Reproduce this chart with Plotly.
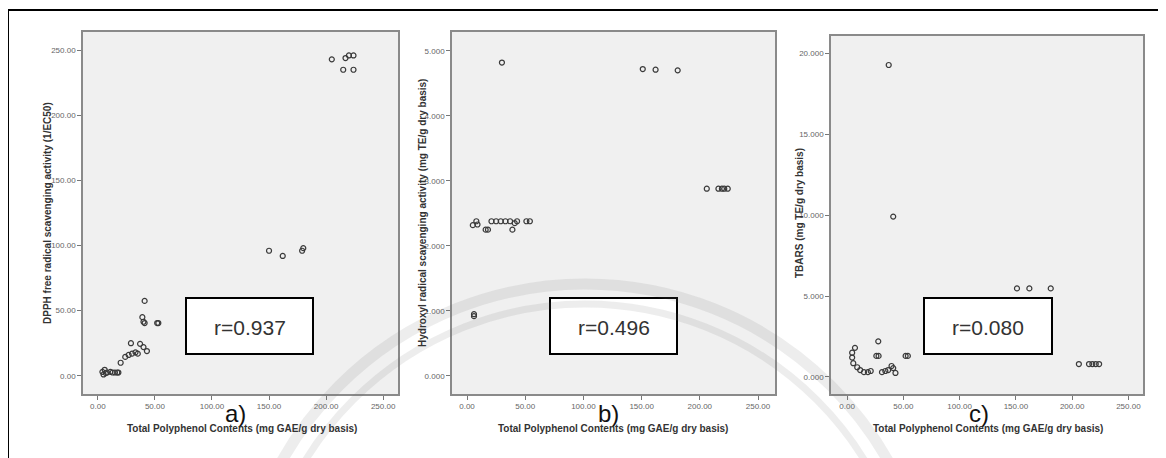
import plotly.graph_objects as go

# The page body has an 8px margin, so the figure is sized to fill the rest of the window.
OFF = 8
W, H = 1166 - OFF, 458 - OFF

# ---- data ----
tpc_a = [4, 5, 6, 7, 8, 11, 13, 15, 17, 18, 20, 24, 27, 30, 33, 35, 29, 37, 40, 43,
         39, 40, 41, 41, 52, 53, 150, 162, 179, 180, 205, 215, 217, 220, 224, 224]
dpph = [3, 1, 4.6, 2, 2.5, 3, 2.5, 2.5, 2.5, 2.5, 10, 14.5, 16, 17, 18, 17, 25, 24.5, 22, 19,
        45, 41.5, 40.5, 57.5, 40.5, 40.5, 96, 92, 96, 98, 243, 235, 244, 246, 246, 235]

tpc_b = [5, 6, 6, 8, 9, 16, 18, 21, 25, 29, 33, 37, 43, 39, 41, 51, 54, 30,
         151, 162, 181, 206, 216, 219, 221, 224]
hydroxyl = [2.32, 0.95, 0.92, 2.38, 2.33, 2.25, 2.25, 2.38, 2.38, 2.38, 2.38, 2.38, 2.38, 2.25, 2.35, 2.38, 2.38, 4.82,
            4.72, 4.71, 4.70, 2.88, 2.88, 2.88, 2.88, 2.88]

tpc_c = [7, 4.5, 4.5, 5.5, 9, 11.6, 15, 18.5, 21, 27.7, 26, 28, 52, 54, 31, 34, 36.5, 39.5, 41, 43,
         37, 41, 151, 162, 181, 206, 215, 218, 221, 224]
tbars = [1.8, 1.5, 1.2, 0.85, 0.6, 0.43, 0.3, 0.3, 0.37, 2.2, 1.3, 1.3, 1.3, 1.3, 0.3, 0.37, 0.43, 0.68, 0.55, 0.25,
         19.26, 9.9, 5.47, 5.47, 5.47, 0.8, 0.8, 0.8, 0.8, 0.8]

r_labels = ["r=0.937", "r=0.496", "r=0.080"]
panel_labels = ["a)", "b)", "c)"]
x_title = "Total Polyphenol Contents (mg GAE/g dry basis)"
y_titles = ["DPPH free radical scavenging activity (1/EC50)",
            "Hydroxyl radical scavenging activity (mg TE/g dry basis)",
            "TBARS (mg TE/g dry basis)"]

x_ticks = [0, 50, 100, 150, 200, 250]
y_ticks_a = [0, 50, 100, 150, 200, 250]
y_ticks_b = [0, 1, 2, 3, 4, 5]
y_ticks_c = [0, 5, 10, 15, 20]


# ---- layout helpers (window pixel geometry -> paper fractions) ----
def px_x(p):
    return (p - OFF) / W


def px_y(p):
    return 1 - (p - OFF) / H


panels = [
    dict(x=(83, 398), y=(32, 394), xr=[-13, 263], yr=[-14, 264], yt=y_ticks_a, yfmt=".2f",
         box=(186, 313), lab_x=235, xt_x=242, yt_x=48),
    dict(x=(452, 775), y=(32, 394), xr=[-12.9, 264.6], yr=[-0.277, 5.29], yt=y_ticks_b, yfmt=".3f",
         box=(550, 677), lab_x=608, xt_x=613, yt_x=423),
    dict(x=(831, 1143), y=(36, 394), xr=[-14.3, 263], yr=[-1.05, 21.05], yt=y_ticks_c, yfmt=".3f",
         box=(924, 1052), lab_x=979, xt_x=988, yt_x=800),
]
series = [(tpc_a, dpph), (tpc_b, hydroxyl), (tpc_c, tbars)]

fig = go.Figure()
tick_font = dict(family="Liberation Sans Narrow, Liberation Sans, Arial", size=8, color="#666")
title_font = dict(family="Liberation Sans, Arial", size=10, color="#333")

for i, (p, (xs, ys)) in enumerate(zip(panels, series)):
    n = "" if i == 0 else str(i + 1)
    fig.add_trace(go.Scatter(
        x=xs, y=ys, mode="markers", xaxis="x" + n, yaxis="y" + n, showlegend=False,
        marker=dict(symbol="circle-open", size=5, color="#3a3a3a", line=dict(width=1.2)),
    ))
    axcommon = dict(showgrid=False, zeroline=False, showline=True, mirror=True,
                    linecolor="#8a8a8a", linewidth=1.5, ticks="outside", ticklen=4,
                    tickcolor="#777", tickfont=tick_font)
    fig.update_layout(**{
        "xaxis" + n: dict(domain=[px_x(p["x"][0]), px_x(p["x"][1])], range=p["xr"],
                          tickvals=x_ticks, tickformat=".2f", anchor="y" + n, **axcommon),
        "yaxis" + n: dict(domain=[px_y(p["y"][1]), px_y(p["y"][0])], range=p["yr"],
                          tickvals=p["yt"], tickformat=p["yfmt"], anchor="x" + n, **axcommon),
    })
    # r box
    fig.add_shape(type="rect", xref="paper", yref="paper",
                  x0=px_x(p["box"][0]), x1=px_x(p["box"][1]), y0=px_y(354), y1=px_y(298),
                  fillcolor="white", line=dict(color="black", width=2))
    fig.add_annotation(x=px_x((p["box"][0] + p["box"][1]) / 2), y=px_y(327), xref="paper", yref="paper",
                       xanchor="center", yanchor="middle",
                       text=r_labels[i], showarrow=False,
                       font=dict(family="Liberation Sans, Arial", size=21, color="#333"))
    # panel label
    fig.add_annotation(x=px_x(p["lab_x"]), y=px_y(413), xref="paper", yref="paper",
                       xanchor="center", yanchor="middle",
                       text=panel_labels[i], showarrow=False,
                       font=dict(family="Liberation Sans, Arial", size=24, color="#111"))
    # axis titles
    fig.add_annotation(x=px_x(p["xt_x"]), y=px_y(428), xref="paper", yref="paper",
                       xanchor="center", yanchor="middle",
                       text="<b>" + x_title + "</b>", showarrow=False, font=title_font)
    fig.add_annotation(x=px_x(p["yt_x"]), y=px_y(213), xref="paper", yref="paper",
                       xanchor="center", yanchor="middle",
                       text="<b>" + y_titles[i] + "</b>", showarrow=False, textangle=-90,
                       font=title_font)

# faint watermark arcs
for rad, wid in [(348, 11), (328, 7)]:
    cx, cy = 585, 632
    fig.add_shape(type="circle", xref="paper", yref="paper",
                  x0=px_x(cx - rad), x1=px_x(cx + rad), y0=px_y(cy + rad), y1=px_y(cy - rad),
                  line=dict(color="rgba(110,110,110,0.12)", width=wid), fillcolor="rgba(0,0,0,0)",
                  layer="above")

# outer frame
fig.add_shape(type="rect", xref="paper", yref="paper",
              x0=px_x(8), x1=px_x(1162), y0=px_y(470), y1=px_y(10),
              line=dict(color="black", width=2), fillcolor="rgba(0,0,0,0)", layer="below")

fig.update_layout(width=W, height=H, margin=dict(l=0, r=0, t=0, b=0),
                  paper_bgcolor="white", plot_bgcolor="#f0f0f0")

fig.write_html("out.html")
